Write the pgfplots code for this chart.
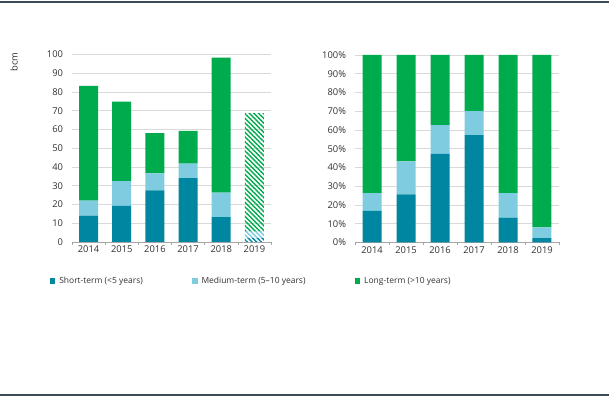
\documentclass[border=0pt]{standalone}
\usepackage{fontspec}
\setmainfont{Open Sans}
\usepackage{pgfplots}
\pgfplotsset{compat=1.18}
\usetikzlibrary{patterns.meta}
\definecolor{cshort}{RGB}{0,134,160}
\definecolor{cmed}{RGB}{127,204,225}
\definecolor{clong}{RGB}{0,171,78}
\definecolor{ctext}{RGB}{50,50,50}
\definecolor{cgrid}{RGB}{217,217,217}
\definecolor{caxis}{RGB}{166,166,166}
\definecolor{cframe}{RGB}{61,74,87}
\pgfplotsset{
  mybar/.style={
    scale only axis,
    height=187.5bp,
    ybar stacked,
    bar width=19bp,
    xmin=-0.5, xmax=5.5,
    xtick={0,1,2,3,4,5},
    xticklabels={2014,2015,2016,2017,2018,2019},
    minor xtick={-0.5,0.5,1.5,2.5,3.5,4.5,5.5},
    major tick length=0pt,
    minor tick length=3bp,
    tick align=outside,
    minor tick style={caxis, line width=0.6bp},
    axis lines*=left,
    x axis line style={caxis, line width=0.6bp},
    y axis line style={draw=none},
    ytick style={draw=none},
    ymajorgrids,
    grid style={cgrid, line width=0.6bp},
    tick label style={font=\fontsize{9.4}{11}\selectfont, text=ctext},
    /pgf/number format/assume math mode=true,
    yticklabel style={xshift=-5.5bp},
    xticklabel style={yshift=-0.5bp},
  },
}
\begin{document}
\begin{tikzpicture}
\useasboundingbox (0,0) rectangle (609bp,396bp);
\fill[white] (0,0) rectangle (609bp,396bp);
\draw[cframe, line width=1.8bp] (0,394.2bp) -- (609bp,394.2bp);
\draw[cframe, line width=1.8bp] (0,1.2bp) -- (609bp,1.2bp);
\begin{axis}[mybar,
  at={(72bp,154bp)}, anchor=south west,
  width=199bp,
  ymin=0, ymax=100, ytick={0,10,...,100},
  ylabel={bcm},
  every axis y label/.style={at={(axis description cs:-0.2915,0.96)}, rotate=90, anchor=center, font=\fontsize{9.4}{11}\selectfont, text=ctext},
  legend columns=3,
  legend style={draw=none, fill=none, inner sep=0pt, outer sep=0pt,
    at={(axis description cs:-0.11,-0.208)}, anchor=west,
    font=\fontsize{8.5}{10}\selectfont, text=ctext,
    nodes={inner sep=1.5bp},
    /tikz/every odd column/.append style={column sep=2.5bp},
    /tikz/every even column/.append style={column sep=48bp}},
  legend image code/.code={\draw[#1, draw=none] (0bp,-2.6bp) rectangle (5.2bp,2.6bp);},
]
\addplot[fill=cshort, draw=none] coordinates {(0,14.0) (1,19.2) (2,27.5) (3,34.0) (4,13.2) (5,0)};
\addplot[fill=cmed, draw=none] coordinates {(0,8.0) (1,13.3) (2,9.1) (3,7.8) (4,13.1) (5,0)};
\addplot[fill=clong, draw=none] coordinates {(0,61.2) (1,42.3) (2,21.4) (3,17.4) (4,72.0) (5,0)};
\addplot[forget plot, draw=none, pattern={Lines[angle=-45,distance=3.3bp,line width=1.4bp]}, pattern color=cshort] coordinates {(0,0) (1,0) (2,0) (3,0) (4,0) (5,1.6)};
\addplot[forget plot, draw=none, pattern={Lines[angle=-45,distance=3.3bp,line width=1.4bp]}, pattern color=cmed] coordinates {(0,0) (1,0) (2,0) (3,0) (4,0) (5,3.9)};
\addplot[forget plot, draw=none, pattern={Lines[angle=-45,distance=3.3bp,line width=1.4bp]}, pattern color=clong] coordinates {(0,0) (1,0) (2,0) (3,0) (4,0) (5,63.1)};
\legend{Short-term (<5 years), Medium-term (5--10 years), Long-term (>10 years)}
\end{axis}
\begin{axis}[mybar,
  at={(355bp,153.5bp)}, anchor=south west,
  width=204bp,
  ymin=0, ymax=100, ytick={0,10,...,100},
  yticklabels={0\%,10\%,20\%,30\%,40\%,50\%,60\%,70\%,80\%,90\%,100\%},
]
\addplot[fill=cshort, draw=none] coordinates {(0,16.9) (1,25.6) (2,47.2) (3,57.3) (4,13.3) (5,2.3)};
\addplot[fill=cmed, draw=none] coordinates {(0,9.4) (1,17.6) (2,15.4) (3,12.8) (4,13.0) (5,5.7)};
\addplot[fill=clong, draw=none] coordinates {(0,73.7) (1,56.8) (2,37.4) (3,29.9) (4,73.7) (5,92.0)};
\end{axis}
\end{tikzpicture}
\end{document}
